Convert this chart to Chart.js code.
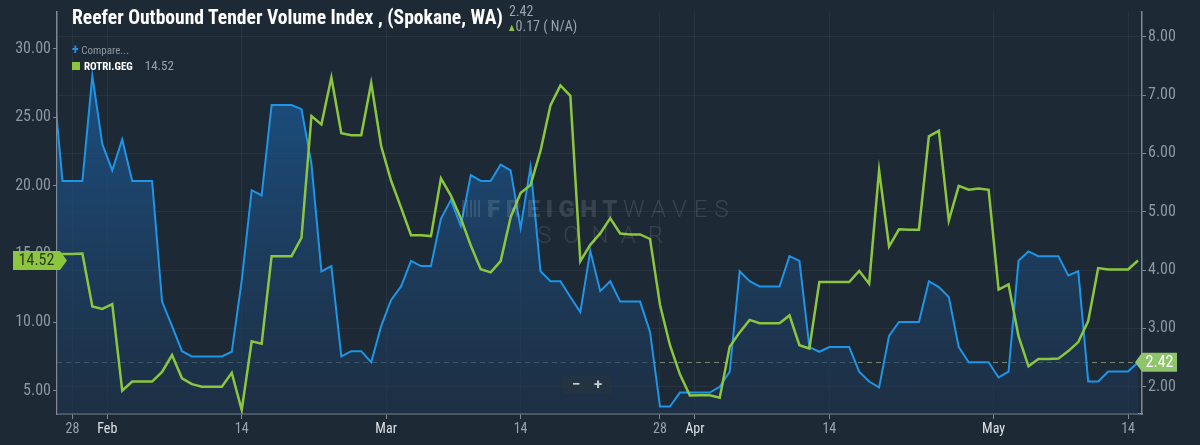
<!DOCTYPE html>
<html>
<head>
<meta charset="utf-8">
<script src="https://cdn.jsdelivr.net/npm/chart.js@4.4.1/dist/chart.umd.min.js"></script>
<style>
html, body { margin: 0; padding: 0; background: #1d2935; overflow: hidden; }
#wrap { position: relative; width: 1200px; height: 445px; }
#chart { position: absolute; left: 0; top: 0; }
.t { position: absolute; white-space: nowrap; font-family: 'Roboto Condensed', 'Liberation Sans Narrow', 'DejaVu Sans Condensed', Roboto, sans-serif; }
#title { left: 72px; top: 6px; font-size: 19.6px; font-weight: bold; color: #fff; }
#last { left: 509px; top: 3px; font-size: 14px; color: #9aa3ab; }
#chg { left: 509px; top: 18px; font-size: 14px; color: #9aa3ab; }
#chg b { color: #8cc63f; font-size: 8px; margin-right: 1px; vertical-align: 1px; }
#cmp { left: 72px; top: 41px; font-size: 11px; color: #8e98a2; }
#cmp b { color: #2a8be0; font-size: 14px; }
#leg { left: 72px; top: 58px; font-size: 11px; color: #fff; font-weight: bold; }
#leg i { display: inline-block; width: 8px; height: 8px; background: #8cc63f; margin-right: 4px; }
#leg span { color: #9aa3ab; font-weight: normal; font-size: 13px; margin-left: 12px; }
#wm1 { left: 487px; top: 195px; font-size: 24px; color: rgba(255,255,255,0.12); font-family: Roboto, sans-serif; }
#wm1 b { font-weight: 900; letter-spacing: 5.5px; }
#wm1 span { font-weight: 300; letter-spacing: 7px; }
#wm2 { left: 537px; top: 221px; font-size: 24px; letter-spacing: 12px; color: rgba(255,255,255,0.11); font-family: Roboto, sans-serif; font-weight: 300; }
#wmicon { position: absolute; left: 462px; top: 200px; width: 20px; height: 17px; background: repeating-linear-gradient(90deg, rgba(255,255,255,0.12) 0 2px, transparent 2px 4px); }
#zoombox { position: absolute; left: 562px; top: 376px; width: 50px; height: 18px; background: rgba(38,52,66,0.85); border-radius: 4px; color: #c8cdd2; font: bold 15px Roboto, sans-serif; }
#zoombox span { position: absolute; top: -1px; }
</style>
</head>
<body>
<div id="wrap">
  <canvas id="chart" width="1200" height="445"></canvas>
  <div id="wmicon"></div>
  <div class="t" id="wm1"><b>FREIGHT</b><span>WAVES</span></div>
  <div class="t" id="wm2">SONAR</div>
  <div class="t" id="title">Reefer Outbound Tender Volume Index , (Spokane, WA)</div>
  <div class="t" id="last">2.42</div>
  <div class="t" id="chg"><b>&#9650;</b>0.17 ( N/A)</div>
  <div class="t" id="cmp"><b>+</b> Compare...</div>
  <div class="t" id="leg"><i></i>ROTRI.GEG<span>14.52</span></div>
  <div id="zoombox"><span style="left:10px">&minus;</span><span style="left:32px">+</span></div>
</div>
<script>
// daily values, first one is Jan 26 (day -2 counted from Jan 28)
const firstDay = -2;

// ROTRI.GEG, left axis
const rotriValues = [
  15.0, 15.0, 15.0, 15.02, 11.16, 10.97, 11.33, 5.0, 5.66, 5.66,
  5.66, 6.37, 7.6, 5.9, 5.47, 5.28, 5.28, 5.28, 6.3, 3.58,
  8.6, 8.43, 14.83, 14.83, 14.83, 16.18, 25.09, 24.47, 27.9, 23.83,
  23.67, 23.67, 27.5, 22.89, 20.35, 18.38, 16.37, 16.37, 16.3, 20.52,
  19.26, 17.6, 15.61, 13.88, 13.65, 14.47, 17.67, 19.45, 20.04, 22.53,
  25.85, 27.32, 26.56, 14.47, 15.66, 16.5, 17.6, 16.49, 16.42, 16.42,
  16.09, 11.28, 8.32, 6.19, 4.64, 4.66, 4.66, 4.48, 8.2, 9.26,
  10.17, 9.93, 9.93, 9.93, 10.5, 8.32, 8.08, 12.94, 12.94, 12.94,
  12.94, 13.76, 12.82, 21.11, 15.54, 16.8, 16.77, 16.77, 23.6, 24.0,
  17.44, 19.97, 19.69, 19.78, 19.69, 12.39, 12.77, 8.98, 6.78, 7.32,
  7.32, 7.34, 7.89, 8.55, 10.09, 13.96, 13.86, 13.86, 13.86, 14.52
];

// ROTVI, right axis
const rotviValues = [
  7.4, 5.53, 5.53, 5.53, 7.33, 6.16, 5.71, 6.24, 5.53, 5.53,
  5.53, 3.46, 3.04, 2.61, 2.52, 2.52, 2.52, 2.52, 2.6, 3.82,
  5.37, 5.28, 6.83, 6.83, 6.83, 6.76, 5.82, 3.98, 4.07, 2.52,
  2.61, 2.61, 2.42, 3.04, 3.49, 3.72, 4.16, 4.07, 4.07, 4.88,
  5.2, 4.76, 5.63, 5.53, 5.53, 5.81, 5.71, 4.72, 5.77, 3.98,
  3.81, 3.81, 3.54, 3.28, 4.33, 3.64, 3.81, 3.46, 3.46, 3.46,
  2.94, 1.66, 1.66, 1.9, 1.9, 1.9, 1.9, 2.0, 2.26, 3.98,
  3.81, 3.72, 3.72, 3.72, 4.24, 4.16, 2.68, 2.6, 2.68, 2.68,
  2.68, 2.26, 2.09, 1.99, 2.87, 3.11, 3.11, 3.11, 3.81, 3.71,
  3.54, 2.68, 2.42, 2.42, 2.42, 2.16, 2.26, 4.16, 4.32, 4.24,
  4.24, 4.24, 3.91, 3.98, 2.09, 2.09, 2.26, 2.26, 2.26, 2.42
];

// month ticks sit half a day before the 1st, like the original
const xTickDays = [0, 3.5, 17, 31.5, 45, 59, 62.5, 76, 92.5, 106];
const xTickLabels = ['28', 'Feb', '14', 'Mar', '14', '28', 'Apr', '14', 'May', '14'];
const leftTicks = [5, 10, 15, 20, 25, 30];
const rightTicks = [2, 3, 4, 5, 6, 7, 8];

const FONT = "'Roboto Condensed', 'Liberation Sans Narrow', 'DejaVu Sans Condensed', Roboto, sans-serif";
const AXIS = '#7f8a94';

function toPoints(values) {
    return values.map((v, i) => ({x: firstDay + i, y: v}));
}

function drawTag(ctx, tipX, y, side, text, bg, fg) {
    const h = 19, w = 47, notch = 7;
    let x0, x1;
    ctx.save();
    ctx.fillStyle = bg;
    ctx.beginPath();
    if (side === 'left') {
        x1 = tipX - notch; x0 = x1 - w;
        ctx.moveTo(x0, y - h / 2);
        ctx.lineTo(x1, y - h / 2);
        ctx.lineTo(tipX, y);
        ctx.lineTo(x1, y + h / 2);
        ctx.lineTo(x0, y + h / 2);
    } else {
        x0 = tipX + notch; x1 = x0 + 35;
        ctx.moveTo(tipX, y);
        ctx.lineTo(x0, y - h / 2);
        ctx.lineTo(x1, y - h / 2);
        ctx.lineTo(x1, y + h / 2);
        ctx.lineTo(x0, y + h / 2);
    }
    ctx.closePath();
    ctx.fill();
    ctx.fillStyle = fg;
    ctx.font = '16px ' + FONT;
    ctx.textAlign = 'center';
    ctx.textBaseline = 'middle';
    ctx.fillText(text, (x0 + x1) / 2, y + 1);
    ctx.restore();
}

const tagPlugin = {
    id: 'tags',
    beforeDatasetsDraw(chart) {
        const {ctx, chartArea: a, scales} = chart;
        const y = Math.round(scales.yR.getPixelForValue(rotviValues[rotviValues.length - 1])) + 0.5;
        ctx.save();
        ctx.strokeStyle = 'rgba(140,165,135,0.75)';
        ctx.lineWidth = 1;
        ctx.setLineDash([5, 4]);
        ctx.beginPath();
        ctx.moveTo(a.left, y);
        ctx.lineTo(a.right, y);
        ctx.stroke();
        ctx.restore();
    },
    afterDraw(chart) {
        const {ctx, chartArea: a, scales} = chart;
        const g = rotriValues[rotriValues.length - 1];
        const b = rotviValues[rotviValues.length - 1];
        drawTag(ctx, a.left + 10, scales.yL.getPixelForValue(g), 'left', g.toFixed(2), '#8cc63f', '#2c3a1e');
        drawTag(ctx, a.right - 7, scales.yR.getPixelForValue(b), 'right', b.toFixed(2), '#8fc46c', '#ffffff');
    }
};

function blueFill(context) {
    const area = context.chart.chartArea;
    if (!area) return 'rgba(26,90,150,0.5)';
    const grad = context.chart.ctx.createLinearGradient(0, area.top, 0, area.bottom);
    grad.addColorStop(0, 'rgba(27,95,160,0.85)');
    grad.addColorStop(1, 'rgba(30,52,78,0.6)');
    return grad;
}

const config = {
    type: 'line',
    data: {
        datasets: [{
            label: 'ROTRI.GEG',
            data: toPoints(rotriValues),
            yAxisID: 'yL',
            borderColor: '#8cc63f',
            borderWidth: 2.5,
            pointRadius: 0,
            tension: 0,
            fill: false,
            order: 1
        }, {
            label: 'ROTVI',
            data: toPoints(rotviValues),
            yAxisID: 'yR',
            borderColor: '#1e95e6',
            borderWidth: 2,
            backgroundColor: blueFill,
            pointRadius: 0,
            tension: 0,
            fill: 'start',
            order: 2
        }]
    },
    options: {
        responsive: false,
        animation: false,
        layout: {padding: 0},
        plugins: {
            legend: {display: false},
            tooltip: {enabled: false}
        },
        scales: {
            x: {
                type: 'linear',
                min: -1.55,
                max: 107.4,
                afterBuildTicks: axis => { axis.ticks = xTickDays.map(v => ({value: v})); },
                afterFit: axis => { axis.height = 31; },
                ticks: {
                    autoSkip: false,
                    maxRotation: 0,
                    padding: 2,
                    font: {family: FONT, size: 14},
                    color: ctx => (xTickLabels[ctx.index].length > 2 ? '#dde2e6' : '#9aa3ab'),
                    callback: (v, i) => xTickLabels[i]
                },
                grid: {color: 'rgba(255,255,255,0.05)', tickColor: AXIS, tickLength: 5},
                border: {color: AXIS, width: 1.5}
            },
            yL: {
                type: 'linear',
                position: 'left',
                min: 3.29,
                max: 32.72,
                afterBuildTicks: axis => { axis.ticks = leftTicks.map(v => ({value: v})); },
                afterFit: axis => { axis.width = 57; },
                ticks: {
                    padding: 2,
                    font: {family: FONT, size: 16},
                    color: '#8e98a2',
                    callback: v => v.toFixed(2)
                },
                grid: {drawOnChartArea: false, tickColor: AXIS, tickLength: 4},
                border: {color: AXIS, width: 1.5}
            },
            yR: {
                type: 'linear',
                position: 'right',
                min: 1.533,
                max: 8.433,
                afterBuildTicks: axis => { axis.ticks = rightTicks.map(v => ({value: v})); },
                afterFit: axis => { axis.width = 58; },
                ticks: {
                    padding: 2,
                    font: {family: FONT, size: 16},
                    color: '#8e98a2',
                    callback: v => v.toFixed(2)
                },
                grid: {color: 'rgba(255,255,255,0.05)', tickColor: AXIS, tickLength: 4},
                border: {color: AXIS, width: 1.5}
            }
        }
    },
    plugins: [tagPlugin]
};

new Chart(document.getElementById('chart'), config);
</script>
</body>
</html>
